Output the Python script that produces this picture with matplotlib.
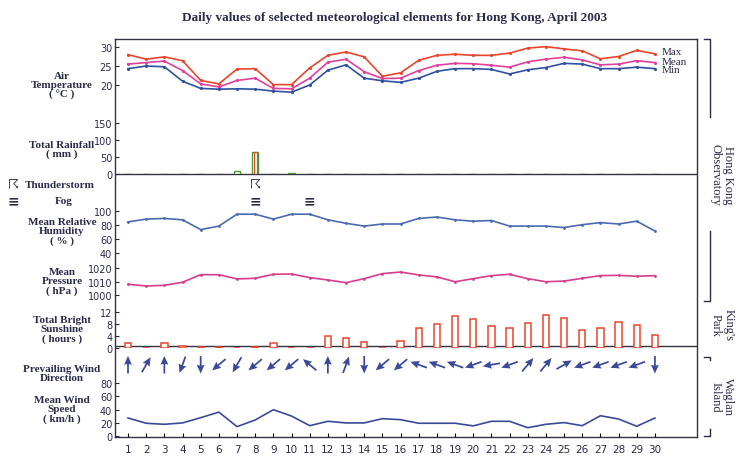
import numpy as np
import matplotlib
matplotlib.use("Agg")
import matplotlib.pyplot as plt
from matplotlib.lines import Line2D

days = list(range(1, 31))
t_max = [28.0,26.8,27.4,26.4,21.2,20.3,24.2,24.3,20.1,20.1,24.5,27.8,28.7,27.4,22.3,23.2,26.5,27.8,28.1,27.8,27.8,28.4,29.7,30.1,29.5,29.0,26.9,27.5,29.1,28.2]
t_mean = [25.5,25.9,26.3,23.8,20.3,19.5,21.2,21.8,19.1,19.0,21.8,26.0,26.8,23.5,21.7,21.8,23.8,25.2,25.7,25.6,25.2,24.7,26.1,26.8,27.3,26.6,25.3,25.5,26.4,25.9]
t_min = [24.3,25.0,24.8,21.0,19.1,18.9,19.0,18.9,18.4,18.1,20.0,23.9,25.3,21.8,21.1,20.7,21.8,23.6,24.3,24.3,24.1,22.9,24.0,24.6,25.7,25.5,24.3,24.3,24.7,24.3]
rainfall = [0,0.5,0.5,1,0,1,10,65,1,2,0,0,0,0.5,0,0,0,0,0,0,0,0,0,0,0,0,0,0,0,0.5]
thunder_days = [8]
fog_days = [8, 11]
humidity = [84,88,89,87,73,78,95,95,88,95,95,87,82,78,81,81,89,91,87,85,86,78,78,78,76,80,83,81,85,71]
pressure = [1008.0,1006.7,1007.2,1009.5,1015.2,1015.2,1012.0,1012.5,1015.5,1015.7,1013.0,1011.2,1009.2,1012.2,1016.0,1017.2,1015.0,1013.5,1009.9,1012.2,1014.5,1015.5,1012.2,1009.9,1010.4,1012.5,1014.5,1014.7,1014.0,1014.5]
sunshine = [1.7,0,1.6,0.6,0.2,0.2,0,0.2,1.7,0,0,4.0,3.4,2.0,0,2.4,6.7,8.2,10.7,9.7,7.4,6.7,8.4,11.2,10.0,5.9,6.6,8.6,7.7,4.4]
wind_from = [180,210,180,20,0,50,30,50,50,50,130,180,200,0,50,50,110,110,110,70,80,70,220,220,240,70,70,70,70,0]
wind_speed = [27,19,17.4,19.5,27.5,36,13.8,24,39.7,30,15.3,22,19.5,19.5,26,24.5,19,19,19,15,22,22,12.2,17.4,20,15.3,30.5,25.5,14.4,27]

W, H = 736, 464
fig = plt.figure(figsize=(W/100, H/100), dpi=100)
SERIF = "Liberation Serif"
TXT = "#2b2b4a"

def ax_px(top, bottom, left=115, right=697):
    return fig.add_axes([left/W, 1-bottom/H, (right-left)/W, (bottom-top)/H])

step = 18.17
xl = (1 - 13/step, 1 + (697-128)/step)

def style(ax, ylim, ticks):
    ax.set_xlim(*xl)
    ax.set_ylim(*ylim)
    ax.patch.set_alpha(0)
    for s in ax.spines.values():
        s.set_visible(False)
    ax.set_xticks([])
    ax.set_yticks(ticks)
    ax.tick_params(axis='y', length=3, labelsize=7, colors=TXT, pad=2, direction='in')

fr = ax_px(40, 438)
fr.set_xlim(*xl); fr.set_ylim(0, 1)
fr.set_xticks(days)
fr.set_xticklabels([str(d) for d in days], fontsize=7.5, color=TXT)
fr.tick_params(axis='x', length=3, direction='in', pad=5)
fr.set_yticks([])
for s in fr.spines.values():
    s.set_color("#333344"); s.set_linewidth(1.0)
for ypx in (175, 347):
    fr.axhline(1-(ypx-40)/398, color="#333344", lw=1.0)

at = ax_px(40, 175)
style(at, (30-127/3.8, 30+8/3.8), [20, 25, 30])
at.plot(days, t_max, color="#e8452c", lw=1.2, marker='.', ms=2.5)
at.plot(days, t_mean, color="#e0409a", lw=1.2, marker='.', ms=2.5)
at.plot(days, t_min, color="#3050a0", lw=1.2, marker='.', ms=2.5)
for lab, v in (("Max", t_max[-1]+0.6), ("Mean", t_mean[-1]+0.3), ("Min", t_min[-1]-0.3)):
    at.text(30.35, v, lab, fontsize=8, family=SERIF, color=TXT, va='center')

ar = ax_px(40, 175)
style(ar, (0, 135/17*50), [0, 50, 100, 150])
ar.bar(days, rainfall, width=0.35, facecolor="white", edgecolor="#4a9a30", lw=1.0)
ar.bar([8], [rainfall[7]], width=0.15, facecolor="none", edgecolor="#e8452c", lw=0.8)

for d in thunder_days:
    fig.text((128+(d-1)*step)/W, 1-186/H, "☈", ha='center', va='center', fontsize=9, color=TXT)
for d in fog_days:
    fig.text((128+(d-1)*step)/W, 1-201/H, "≡", ha='center', va='center', fontsize=10, color=TXT, fontweight='bold')

ah = ax_px(200, 260)
style(ah, (100-48.3/14*20, 100+11.7/14*20), [40, 60, 80, 100])
ah.plot(days, humidity, color="#4a6ab0", lw=1.2, marker='.', ms=2)

ap = ax_px(260, 300)
style(ap, (1020-30.7/1.33, 1020+9.3/1.33), [1000, 1010, 1020])
ap.plot(days, pressure, color="#d83c8c", lw=1.2, marker='.', ms=2)

asn = ax_px(305, 349)
style(asn, (0, 44/2.975), [0, 4, 8, 12])
asn.bar(days, sunshine, width=0.35, facecolor="white", edgecolor="#e8452c", lw=1.1)

aw = ax_px(350, 385)
style(aw, (0, 1), [])
ang = np.deg2rad(np.array(wind_from) + 180)
u = np.sin(ang); v = np.cos(ang)
aw.quiver(days, [0.55]*30, u, v, color="#3a4a9a", scale=1/0.5, scale_units='y', pivot='middle',
          width=0.003, headwidth=4.5, headlength=5, headaxislength=4.5, angles='uv')

aws = ax_px(380, 438)
style(aws, (-2, 86.6), [0, 20, 40, 60, 80])
aws.plot(days, wind_speed, color="#3a4a9a", lw=1.2)

labels = [("Air\nTemperature\n( °C )", 86), ("Total Rainfall\n( mm )", 150),
          ("Mean Relative\nHumidity\n( % )", 232), ("Mean\nPressure\n( hPa )", 282),
          ("Total Bright\nSunshine\n( hours )", 330), ("Prevailing Wind\nDirection", 374),
          ("Mean Wind\nSpeed\n( km/h )", 410)]
for t, y in labels:
    fig.text(62/W, 1-y/H, t, ha='center', va='center', fontsize=8, family=SERIF,
             fontweight='bold', color=TXT, linespacing=1.05)
fig.text(8/W, 1-186/H, "☈", ha='left', va='center', fontsize=9, color=TXT)
fig.text(25/W, 1-186/H, "Thunderstorm", ha='left', va='center', fontsize=8, family=SERIF, fontweight='bold', color=TXT)
fig.text(8/W, 1-201/H, "≡", ha='left', va='center', fontsize=10, color=TXT, fontweight='bold')
fig.text(55/W, 1-201/H, "Fog", ha='left', va='center', fontsize=8, family=SERIF, fontweight='bold', color=TXT)

fig.text(395/W, 1-18/H, "Daily values of selected meteorological elements for Hong Kong, April 2003",
         ha='center', va='center', fontsize=9.5, family=SERIF, fontweight='bold', color=TXT)

def fline(xs, ys):
    fig.add_artist(Line2D([x/W for x in xs], [1-y/H for y in ys], color=TXT, lw=1.0))
fline([704, 710, 710], [40, 40, 118])
fline([710, 710, 704], [232, 302, 302])
fig.text(722/W, 1-175/H, "Hong Kong\nObservatory", rotation=-90, ha='center', va='center',
         fontsize=9, family=SERIF, color=TXT, linespacing=1.1)
fig.text(722/W, 1-325/H, "King's\nPark", rotation=-90, ha='center', va='center',
         fontsize=9, family=SERIF, color=TXT, linespacing=1.1)
fline([704, 710, 710], [358, 358, 361])
fline([710, 710, 704], [430, 437, 437])
fig.text(722/W, 1-397/H, "Waglan\nIsland", rotation=-90, ha='center', va='center',
         fontsize=9, family=SERIF, color=TXT, linespacing=1.1)

fig.savefig("out.png", dpi=100)
